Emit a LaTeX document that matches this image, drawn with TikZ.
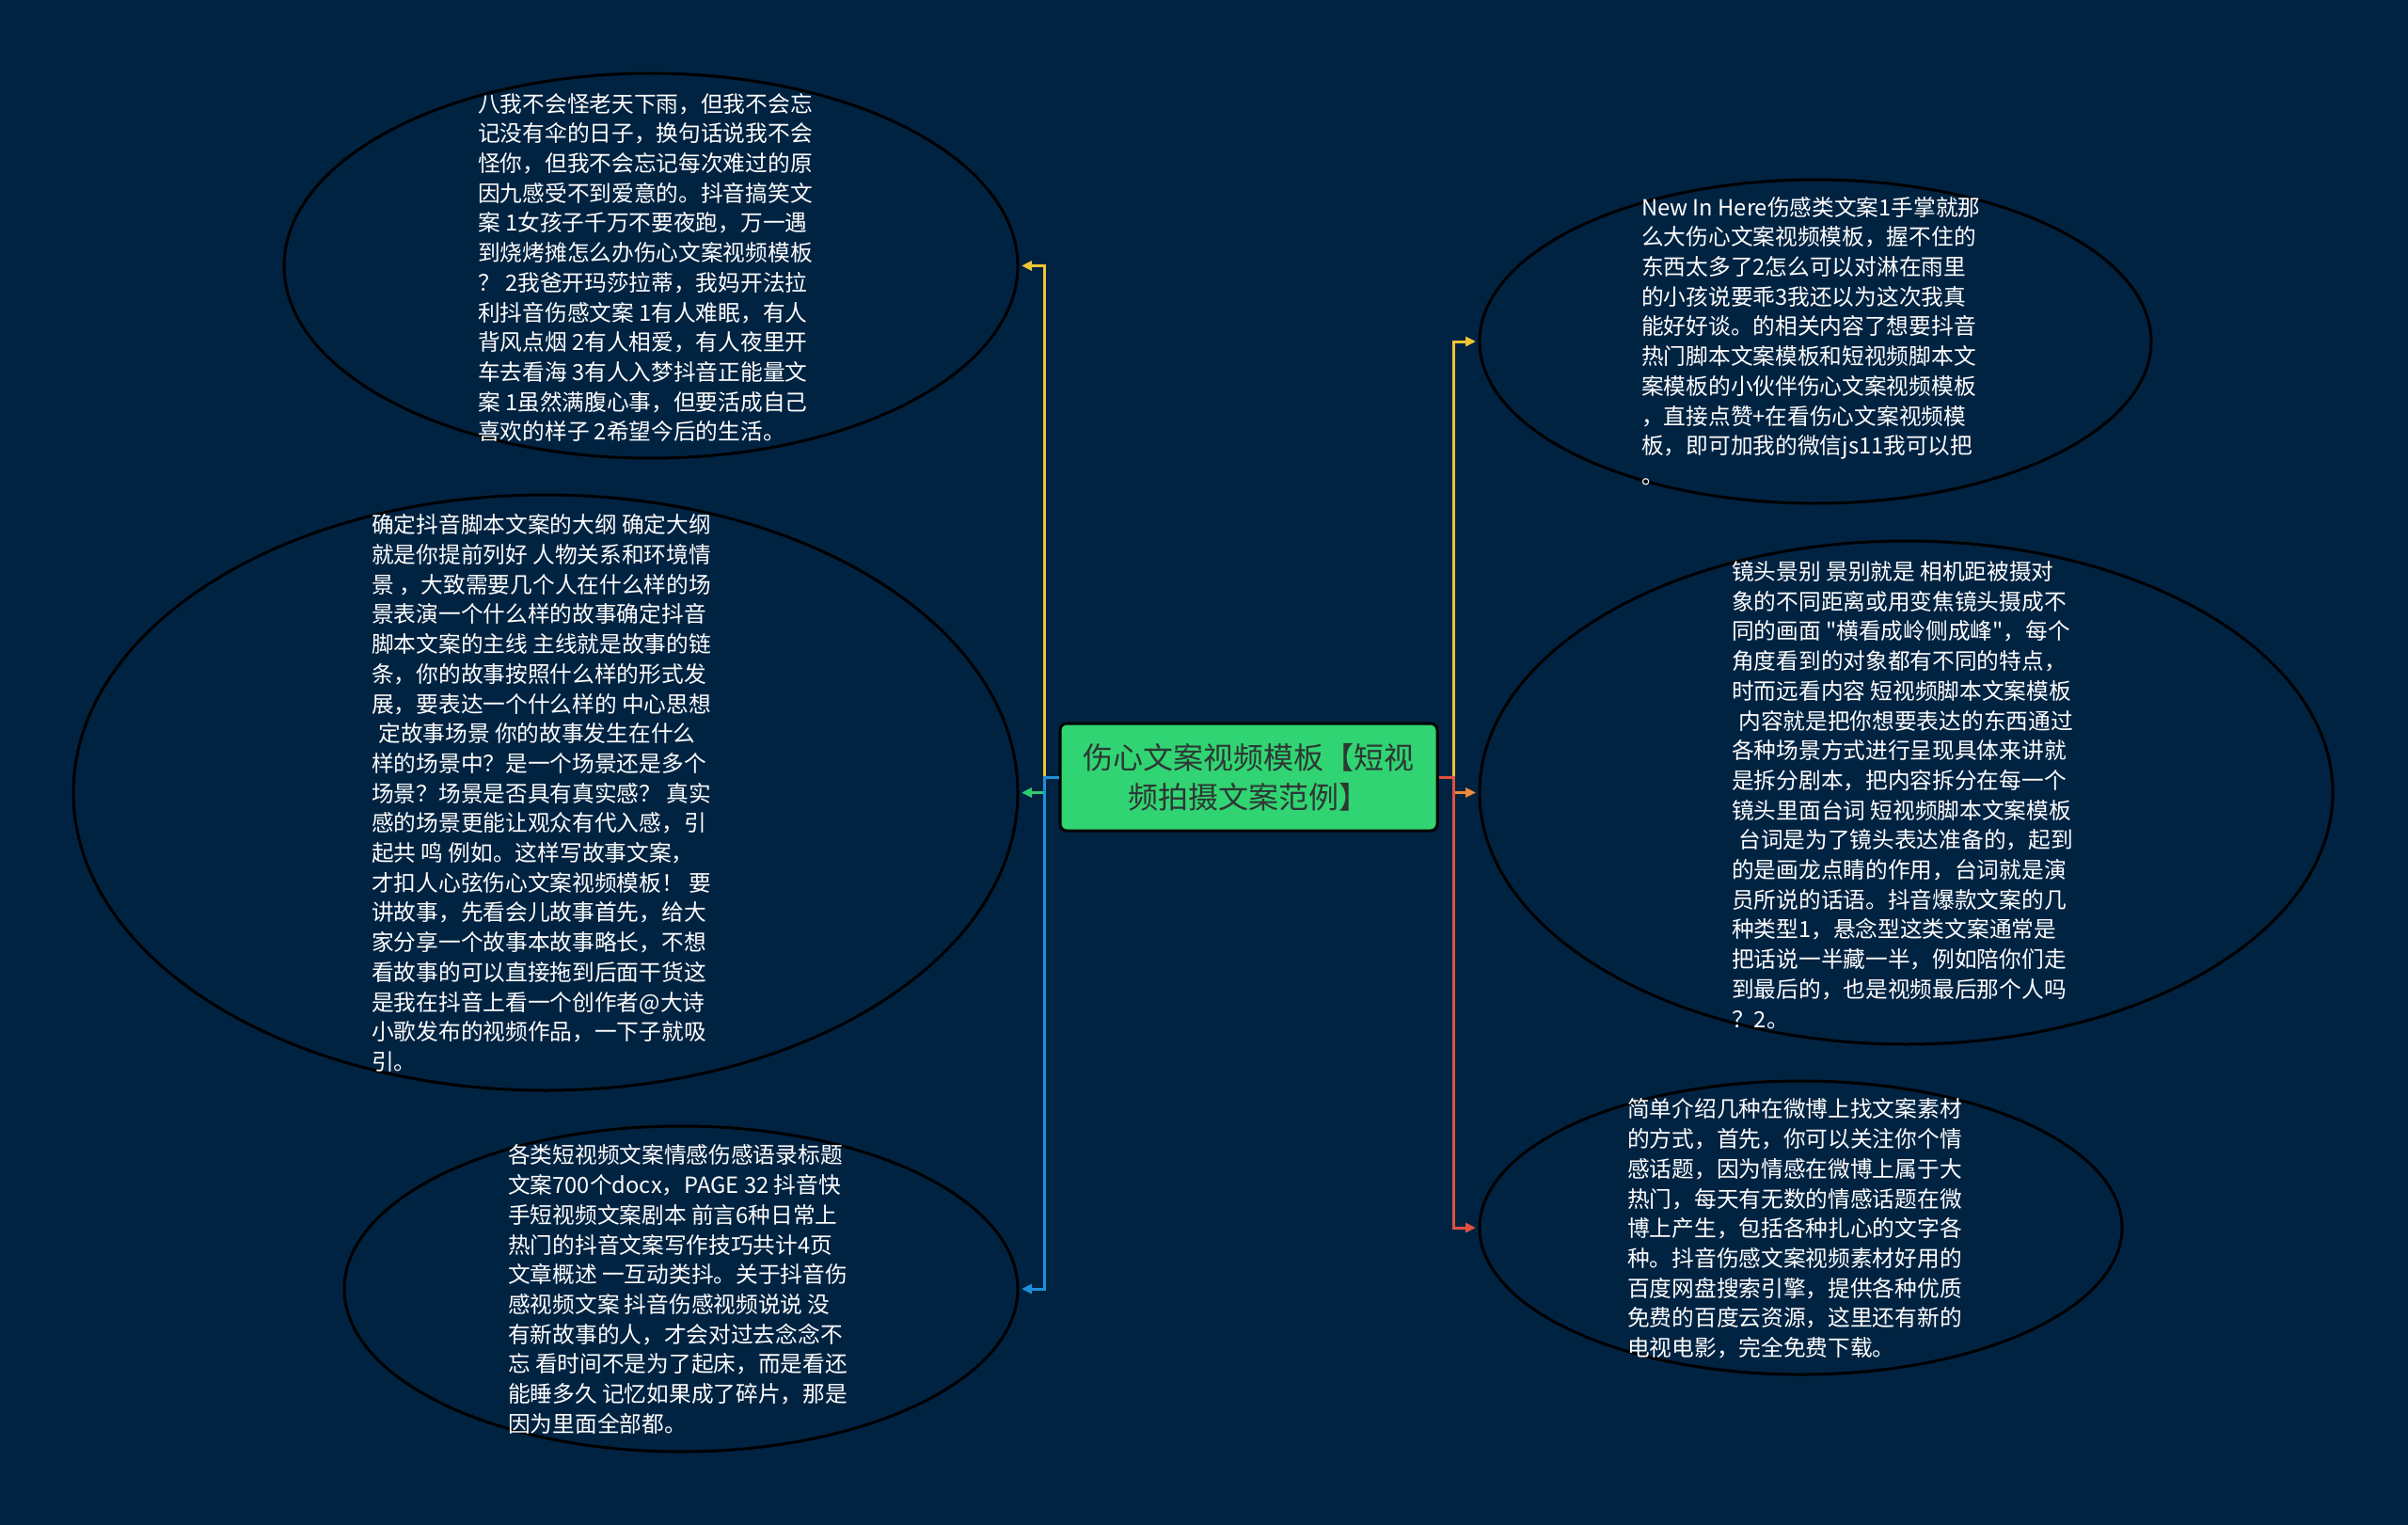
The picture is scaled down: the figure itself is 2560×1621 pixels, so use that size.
\documentclass[tikz,border=0pt]{standalone}
\usepackage{fontspec}
\setmainfont{Noto Sans CJK SC}
\newfontfamily\nqfont{Noto Sans CJK SC}[Ligatures=TeXOff]
\usetikzlibrary{shapes.geometric,arrows.meta}
\definecolor{bg}{RGB}{1,35,66}
\definecolor{cgreen}{RGB}{49,212,114}
\definecolor{ctext}{RGB}{45,55,52}
\definecolor{lyellow}{RGB}{240,196,52}
\definecolor{lgreen}{RGB}{46,204,113}
\definecolor{lblue}{RGB}{30,144,216}
\definecolor{lorange}{RGB}{240,137,58}
\definecolor{lred}{RGB}{224,80,63}
\tikzset{
  bubble/.style={ellipse, draw=black, line width=3pt, inner sep=0pt, outer sep=0pt},
  btext/.style={text=white, align=left, inner sep=0pt, anchor=west, font=\fontsize{23.7}{31.7}\selectfont},
  conn/.style={line width=3pt, -{Triangle[length=11pt,width=10pt]}, shorten >=4pt},
}
\begin{document}
\begin{tikzpicture}[x=1pt,y=-1pt]
\fill[bg] (0,0) rectangle (2560,1621);
\useasboundingbox (0,0) rectangle (2560,1621);

\node[draw=black, line width=3pt, fill=cgreen, rounded corners=7pt, minimum width=401, minimum height=114, inner sep=0pt, text=ctext, align=center, font=\fontsize{32}{42}\selectfont] (c) at (1327.5,826) {伤心文案视频模板【短视\\频拍摄文案范例】};

\node[bubble, minimum width=780, minimum height=409] (e1) at (692,282.5) {};
\node[bubble, minimum width=1004, minimum height=633] (e2) at (580,842.5) {};
\node[bubble, minimum width=716, minimum height=346] (e3) at (724,1370) {};
\node[bubble, minimum width=714, minimum height=344] (e4) at (1930,363) {};
\node[bubble, minimum width=907, minimum height=535] (e5) at (2026.5,842.5) {};
\node[bubble, minimum width=683, minimum height=312] (e6) at (1914.5,1305) {};

\node[btext] (t1) at (508,284.5) {八我不会怪老天下雨，但我不会忘\\记没有伞的日子，换句话说我不会\\怪你，但我不会忘记每次难过的原\\因九感受不到爱意的。抖音搞笑文\\案 1女孩子千万不要夜跑，万一遇\\到烧烤摊怎么办伤心文案视频模板\\？ 2我爸开玛莎拉蒂，我妈开法拉\\利抖音伤感文案 1有人难眠，有人\\背风点烟 2有人相爱，有人夜里开\\车去看海 3有人入梦抖音正能量文\\案 1虽然满腹心事，但要活成自己\\喜欢的样子 2希望今后的生活。};

\node[btext] (t2) at (395,843) {确定抖音脚本文案的大纲 确定大纲\\就是你提前列好 人物关系和环境情\\景 ，大致需要几个人在什么样的场\\景表演一个什么样的故事确定抖音\\脚本文案的主线 主线就是故事的链\\条，你的故事按照什么样的形式发\\展，要表达一个什么样的 中心思想\\\hspace*{0.3em}定故事场景 你的故事发生在什么\\样的场景中？是一个场景还是多个\\场景？场景是否具有真实感？ 真实\\感的场景更能让观众有代入感，引\\起共 鸣 例如。这样写故事文案，\\才扣人心弦伤心文案视频模板！ 要\\讲故事，先看会儿故事首先，给大\\家分享一个故事本故事略长，不想\\看故事的可以直接拖到后面干货这\\是我在抖音上看一个创作者@大诗\\小歌发布的视频作品，一下子就吸\\引。};

\node[btext] (t3) at (540,1370.5) {各类短视频文案情感伤感语录标题\\文案700个docx，PAGE 32 抖音快\\手短视频文案剧本 前言6种日常上\\热门的抖音文案写作技巧共计4页\\文章概述 一互动类抖。关于抖音伤\\感视频文案 抖音伤感视频说说 没\\有新故事的人，才会对过去念念不\\忘 看时间不是为了起床，而是看还\\能睡多久 记忆如果成了碎片，那是\\因为里面全部都。};

\node[btext] (t4) at (1745,362.5) {New In Here伤感类文案1手掌就那\\么大伤心文案视频模板，握不住的\\东西太多了2怎么可以对淋在雨里\\的小孩说要乖3我还以为这次我真\\能好好谈。的相关内容了想要抖音\\热门脚本文案模板和短视频脚本文\\案模板的小伙伴伤心文案视频模板\\，直接点赞+在看伤心文案视频模\\板，即可加我的微信js11我可以把\\。};

\node[btext] (t5) at (1841,845) {镜头景别 景别就是 相机距被摄对\\象的不同距离或用变焦镜头摄成不\\同的画面 {\nqfont "}横看成岭侧成峰{\nqfont "}，每个\\角度看到的对象都有不同的特点，\\时而远看内容 短视频脚本文案模板\\\hspace*{0.3em}内容就是把你想要表达的东西通过\\各种场景方式进行呈现具体来讲就\\是拆分剧本，把内容拆分在每一个\\镜头里面台词 短视频脚本文案模板\\\hspace*{0.3em}台词是为了镜头表达准备的，起到\\的是画龙点睛的作用，台词就是演\\员所说的话语。抖音爆款文案的几\\种类型1，悬念型这类文案通常是\\把话说一半藏一半，例如陪你们走\\到最后的，也是视频最后那个人吗\\？2。};

\node[btext] (t6) at (1730,1306) {简单介绍几种在微博上找文案素材\\的方式，首先，你可以关注你个情\\感话题，因为情感在微博上属于大\\热门，每天有无数的情感话题在微\\博上产生，包括各种扎心的文字各\\种。抖音伤感文案视频素材好用的\\百度网盘搜索引擎，提供各种优质\\免费的百度云资源，这里还有新的\\电视电影，完全免费下载。};

\coordinate (jl) at (1110,826);
\coordinate (jr) at (1545,826);

\draw[conn, lyellow] (c.west) -- (jl) |- (e1.east);
\draw[conn, lgreen] (c.west) -- (jl) |- (e2.east);
\draw[conn, lblue] (c.west) -- (jl) |- (e3.east);
\draw[conn, lyellow] (c.east) -- (jr) |- (e4.west);
\draw[conn, lorange] (c.east) -- (jr) |- (e5.west);
\draw[conn, lred] (c.east) -- (jr) |- (e6.west);
\end{tikzpicture}
\end{document}
